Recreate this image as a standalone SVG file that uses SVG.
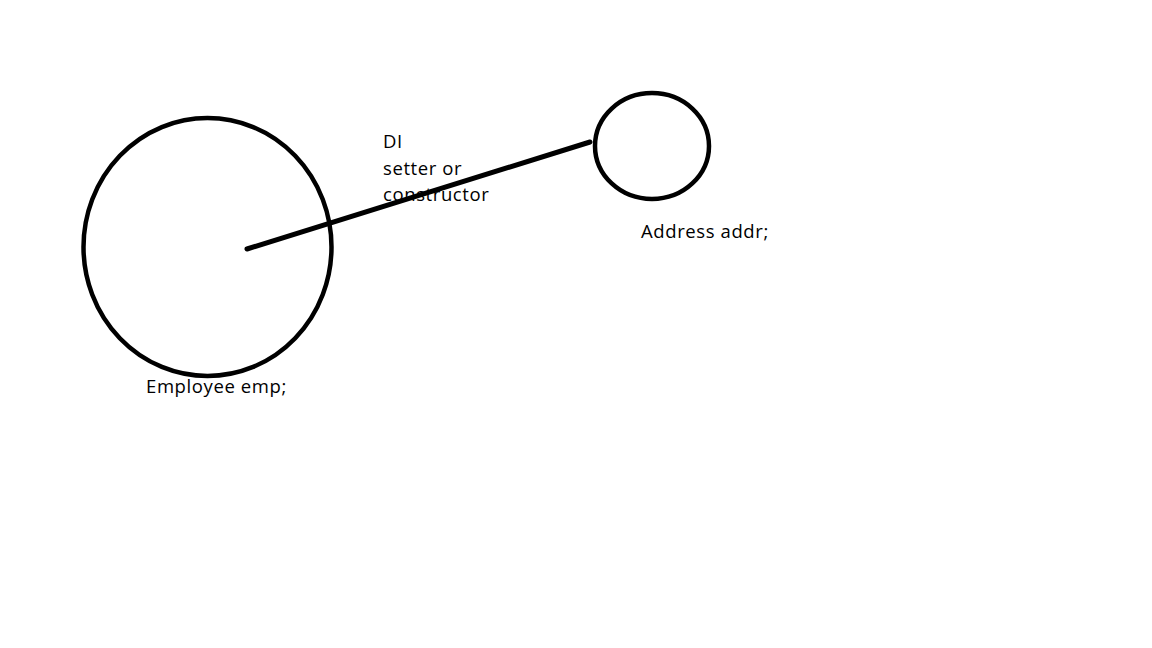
<svg xmlns="http://www.w3.org/2000/svg" width="1152" height="648" viewBox="0 0 1152 648">
<style>
.n{fill:none;stroke:#000;stroke-width:4.5}
.t{font-family:"Open Sans","Noto Sans",sans-serif;font-size:18.5px;letter-spacing:0.6px;fill:#000}
</style>
<rect width="1152" height="648" fill="#fff"/>
<g id="connectors">
<line x1="247" y1="249" x2="590" y2="142" stroke="#000" stroke-width="5" stroke-linecap="round"/>
</g>
<g id="employee">
<ellipse class="n" cx="207.5" cy="247" rx="124" ry="129"/>
<text class="t" x="146" y="393">Employee emp;</text>
</g>
<g id="address">
<ellipse class="n" cx="652" cy="146" rx="57" ry="53"/>
<text class="t" x="641" y="238">Address addr;</text>
</g>
<g id="label">
<text class="t" x="383" y="148">DI</text>
<text class="t" x="383" y="175">setter or</text>
<text class="t" x="383" y="201">constructor</text>
</g>
</svg>
